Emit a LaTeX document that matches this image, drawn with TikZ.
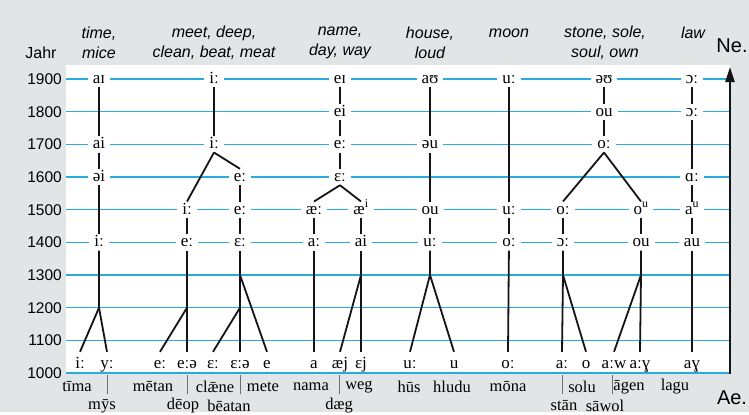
\documentclass[tikz,border=0pt]{standalone}
\usepackage{fontspec}
\setmainfont{Liberation Serif}
\setsansfont{Liberation Sans}
\usepackage{tikz}
\usetikzlibrary{arrows.meta, positioning, calc}
\definecolor{mycyan}{RGB}{38,172,222}
\definecolor{mydark}{RGB}{20,20,24}
\definecolor{mypaper}{RGB}{226,229,229}
\definecolor{mytick}{RGB}{110,110,110}
\tikzset{
  phon/.style={fill=white, inner xsep=5pt, inner ysep=3.5pt,
    text height=9pt, text depth=0pt, font=\fontsize{17}{19}\selectfont},
  phonlow/.style={inner xsep=2pt, inner ysep=7.5pt,
    text height=9pt, text depth=0pt, font=\fontsize{17}{19}\selectfont},
  yearlab/.style={anchor=east, inner sep=0pt, font=\sffamily\fontsize{15.5}{17}\selectfont},
  hdr/.style={align=center, inner sep=0pt, font=\sffamily\itshape\fontsize{16}{20}\selectfont},
  oeword/.style={inner sep=1pt, font=\fontsize{16.5}{18}\selectfont},
  eralab/.style={inner sep=0pt, font=\sffamily\fontsize{20}{22}\selectfont},
  yrline/.style={mycyan, line width=1.5pt},
  line/.style={mydark, line width=1.8pt},
  tick/.style={mytick, line width=0.6pt}
}

\begin{document}
\begin{tikzpicture}[x=1pt, y=-1pt, >=Stealth]
  % Paper and white panel
  \fill[mypaper] (0,0) rectangle (749,412);
  \fill[white] (66,65) rectangle (730,373);

  % Year lines
  \foreach \yr [count=\i from 0] in {1900,1800,...,1000} {
    \pgfmathsetmacro{\yy}{79+\i*32.67}
    \node[yearlab] (y\yr) at (62,\yy) {\yr};
    \draw[yrline] ([xshift=4pt]y\yr.east) -- (730,\yy);
  }

  % Headers
  \node[hdr] at (41,53) {\upshape Jahr};
  \node[hdr] (htime)  at (99,43)  {time,\\mice};
  \node[hdr] (hmeet)  at (214,43) {meet, deep,\\clean, beat, meat};
  \node[hdr] (hname)  at (340,43) {name,\\day, way};
  \node[hdr] (hhouse) at (430,43) {house,\\loud};
  \node[hdr] (hmoon)  at (509,33) {moon};
  \node[hdr] (hstone) at (605,43) {stone, sole,\\soul, own};
  \node[hdr] (hlaw)   at (693,33) {law};

  % 1900
  \node[phon] (t19)  at (99,79)  {aɪ};
  \node[phon] (m19)  at (214,79) {iː};
  \node[phon] (n19)  at (340,79) {eɪ};
  \node[phon] (h19)  at (430,79) {aʊ};
  \node[phon] (mo19) at (509,79) {uː};
  \node[phon] (s19)  at (604,79) {əʊ};
  \node[phon] (l19)  at (692,79) {ɔː};
  % 1800
  \node[phon] (n18)  at (340,111.7) {ei};
  \node[phon] (s18)  at (604,111.7) {ou};
  \node[phon] (l18)  at (692,111.7) {ɔː};
  % 1700
  \node[phon] (t17)  at (99,144.3)  {ai};
  \node[phon] (m17)  at (214,144.3) {iː};
  \node[phon] (n17)  at (340,144.3) {eː};
  \node[phon] (h17)  at (430,144.3) {əu};
  \node[phon] (s17)  at (604,144.3) {oː};
  % 1600
  \node[phon] (t16)  at (99,177)  {əi};
  \node[phon] (mb16) at (240,177) {eː};
  \node[phon] (n16)  at (340,177) {ɛː};
  \node[phon] (l16)  at (692,177) {ɑː};
  % 1500
  \node[phon] (ma15) at (187,209.7) {iː};
  \node[phon] (mb15) at (240,209.7) {eː};
  \node[phon] (na15) at (314,209.7) {æː};
  \node[phon] (nb15) at (361,209.7) {æ\textsuperscript{i}};
  \node[phon] (h15)  at (430,209.7) {ou};
  \node[phon] (mo15) at (509,209.7) {uː};
  \node[phon] (sa15) at (563,209.7) {oː};
  \node[phon] (sb15) at (641,209.7) {o\textsuperscript{u}};
  \node[phon] (l15)  at (692,209.7) {a\textsuperscript{u}};
  % 1400
  \node[phon] (t14)  at (99,242.3)  {iː};
  \node[phon] (ma14) at (187,242.3) {eː};
  \node[phon] (mb14) at (240,242.3) {ɛː};
  \node[phon] (na14) at (314,242.3) {aː};
  \node[phon] (nb14) at (361,242.3) {ai};
  \node[phon] (h14)  at (430,242.3) {uː};
  \node[phon] (mo14) at (509,242.3) {oː};
  \node[phon] (sa14) at (563,242.3) {ɔː};
  \node[phon] (sb14) at (641,242.3) {ou};
  \node[phon] (l14)  at (692,242.3) {au};

  % Old English sounds
  \node[phonlow] (b1)  at (80,364)  {iː};
  \node[phonlow] (b2)  at (107,364) {yː};
  \node[phonlow] (b3)  at (160,364) {eː};
  \node[phonlow] (b4)  at (187,364) {eːə};
  \node[phonlow] (b5)  at (213,364) {ɛː};
  \node[phonlow] (b6)  at (240,364) {ɛːə};
  \node[phonlow] (b7)  at (267,364) {e};
  \node[phonlow] (b8)  at (314,364) {a};
  \node[phonlow] (b9)  at (340,364) {æj};
  \node[phonlow] (b10) at (361,364) {ɛj};
  \node[phonlow] (b11) at (410,364) {uː};
  \node[phonlow] (b12) at (454,364) {u};
  \node[phonlow] (b13) at (508,364) {oː};
  \node[phonlow] (b14) at (562,364) {aː};
  \node[phonlow] (b15) at (586,364) {o};
  \node[phonlow] (b16) at (614,364) {aːw};
  \node[phonlow] (b17) at (640,364) {aːɣ};
  \node[phonlow] (b18) at (692,364) {aɣ};

  % Junctions
  \coordinate (tj)  at (99,307.7);
  \coordinate (mj)  at (187,307.7);
  \coordinate (mbj) at (240,275);
  \coordinate (mbk) at (240,307.7);
  \coordinate (nj)  at (361,275);
  \coordinate (hj)  at (430,275);
  \coordinate (saj) at (563,275);
  \coordinate (sbj) at (641,275);

  % time, mice
  \draw[line] (t19) -- (t17);
  \draw[line] (t17) -- (t16);
  \draw[line] (t16) -- (t14);
  \draw[line] (t14) -- (tj) -- (b1.north);
  \draw[line] (tj) -- (b2.north);
  % meet, deep, clean, beat, meat
  \draw[line] (m19) -- (m17);
  \draw[line] (m17.south) -- (ma15.north);
  \draw[line] (m17.south) -- (mb16.north);
  \draw[line] (ma15) -- (ma14);
  \draw[line] (ma14) -- (mj) -- (b4.north);
  \draw[line] (mj) -- (b3.north);
  \draw[line] (mb16) -- (mb15);
  \draw[line] (mb15) -- (mb14);
  \draw[line] (mb14) -- (mbj) -- (mbk) -- (b6.north);
  \draw[line] (mbj) -- (b7.north);
  \draw[line] (mbk) -- (b5.north);
  % name, day, way
  \draw[line] (n19) -- (n18);
  \draw[line] (n18) -- (n17);
  \draw[line] (n17) -- (n16);
  \draw[line] (n16.south) -- (na15.north);
  \draw[line] (n16.south) -- (nb15.north);
  \draw[line] (na15) -- (na14);
  \draw[line] (nb15) -- (nb14);
  \draw[line] (na14) -- (b8.north);
  \draw[line] (nb14) -- (nj) -- (b10.north);
  \draw[line] (nj) -- (b9.north);
  % house, loud
  \draw[line] (h19) -- (h17);
  \draw[line] (h17) -- (h15);
  \draw[line] (h15) -- (h14);
  \draw[line] (h14) -- (hj) -- (b11.north);
  \draw[line] (hj) -- (b12.north);
  % moon
  \draw[line] (mo19) -- (mo15);
  \draw[line] (mo15) -- (mo14);
  \draw[line] (mo14) -- (b13.north);
  % stone, sole, soul, own
  \draw[line] (s19) -- (s18);
  \draw[line] (s18) -- (s17);
  \draw[line] (s17.south) -- (sa15.north);
  \draw[line] (s17.south) -- (sb15.north);
  \draw[line] (sa15) -- (sa14);
  \draw[line] (sb15) -- (sb14);
  \draw[line] (sa14) -- (saj) -- (b14.north);
  \draw[line] (saj) -- (b15.north);
  \draw[line] (sb14) -- (sbj) -- (b17.north);
  \draw[line] (sbj) -- (b16.north);
  % law
  \draw[line] (l19) -- (l18);
  \draw[line] (l18) -- (l16);
  \draw[line] (l16) -- (l15);
  \draw[line] (l15) -- (l14);
  \draw[line] (l14) -- (b18.north);

  % Time axis
  \coordinate (ae) at (730,374);
  \coordinate (ne) at (730,67);
  \draw[line, line width=2.4pt, -{Triangle[length=15pt, width=9pt]}] (ae) -- (ne);
  \node[eralab] (netag) at (732,46) {Ne.};
  \node[eralab] (aetag) at (732,398) {Ae.};

  % Old English words
  \node[oeword] at (77,387)  {tīma};
  \node[oeword] at (153,387) {mētan};
  \node[oeword] at (215,387) {clǣne};
  \node[oeword] at (263,387) {mete};
  \node[oeword] at (311,387) {nama};
  \node[oeword] at (359,387) {weg};
  \node[oeword] at (409,387) {hūs};
  \node[oeword] at (452,387) {hludu};
  \node[oeword] at (508,387) {mōna};
  \node[oeword] at (582,387) {solu};
  \node[oeword] at (629,387) {āgen};
  \node[oeword] at (675,387) {lagu};
  \node[oeword] at (102,406) {mȳs};
  \node[oeword] at (183,406) {dēop};
  \node[oeword] at (229,406) {bēatan};
  \node[oeword] at (339,406) {dæg};
  \node[oeword] at (564,406) {stān};
  \node[oeword] at (605,406) {sāwol};
  \foreach \x in {107,187,240,339,562,612}
    \draw[tick] (\x,375) -- (\x,394);
\end{tikzpicture}
\end{document}
